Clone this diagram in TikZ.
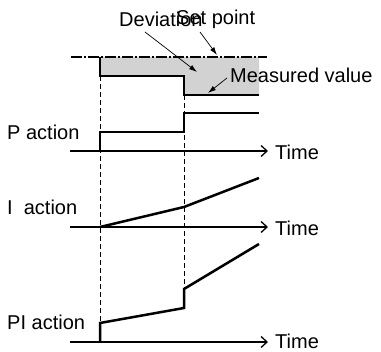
\documentclass[tikz,border=0pt]{standalone}
\usepackage{fontspec}
\setmainfont{Liberation Sans}
\usetikzlibrary{arrows.meta}
\begin{document}
\begin{tikzpicture}[x=1pt,y=-1pt,
  lbl/.style={inner sep=0pt,font=\fontsize{20}{22}\selectfont},
  sig/.style={line width=2.5pt,line join=miter},
  axis/.style={line width=1.3pt,-{Straight Barb[length=6pt,width=11pt,line width=1.3pt]}},
  guide/.style={line width=0.9pt,dash pattern=on 5pt off 3pt},
  pointer/.style={line width=0.7pt,-{Latex[length=8pt,width=5pt]}}]
\useasboundingbox (0,0) rectangle (381,352);
% deviation area
\fill[gray!35] (100,57) -- (259,57) -- (259,95) -- (184,95) -- (184,76) -- (100,76) -- cycle;
% guides
\draw[guide] (100,76) -- (100,323);
\draw[guide] (184,95) -- (184,289);
% set point
\draw[line width=1.1pt,dash pattern=on 11pt off 2pt on 2pt off 2pt] (71,57) -- (267,57);
% measured value
\draw[sig] (100,57) -- (100,76) -- (184,76) -- (184,95) -- (259,95);
% labels top
\node[lbl,anchor=west] (dev) at (119,19) {Deviation};
\node[lbl,anchor=west] (sp) at (176,19) {Set point};
\node[lbl,anchor=west] (mv) at (230,75) {Measured value};
\coordinate (devT) at (197,72);
\coordinate (spT) at (217,55);
\coordinate (mvT) at (208,93);
\draw[pointer] (145,32) -- (devT);
\draw[pointer] (200,32) -- (spT);
\draw[pointer] (227,78) -- (mvT);
% P action
\node[lbl,anchor=west] (pl) at (7,132) {P action};
\coordinate (pa0) at (70,151);
\coordinate (pa1) at (268,151);
\draw[axis] (pa0) -- (pa1);
\node[lbl,anchor=west] (pt) at (275,152) {Time};
\draw[sig] (100,151) -- (100,132) -- (184,132) -- (184,113) -- (259,113);
% I action
\node[lbl,anchor=west] (il) at (7,207) {I\ \ action};
\coordinate (ia0) at (70,227);
\coordinate (ia1) at (268,227);
\draw[axis] (ia0) -- (ia1);
\node[lbl,anchor=west] (it) at (275,228) {Time};
\draw[sig] (100,227) -- (184,207) -- (259,178);
% PI action
\node[lbl,anchor=west] (pil) at (7,322) {PI action};
\coordinate (pia0) at (70,342);
\coordinate (pia1) at (268,342);
\draw[axis] (pia0) -- (pia1);
\node[lbl,anchor=west] (pit) at (275,341) {Time};
\draw[sig] (100,342) -- (100,323) -- (184,308) -- (184,289) -- (259,244);
\end{tikzpicture}
\end{document}
